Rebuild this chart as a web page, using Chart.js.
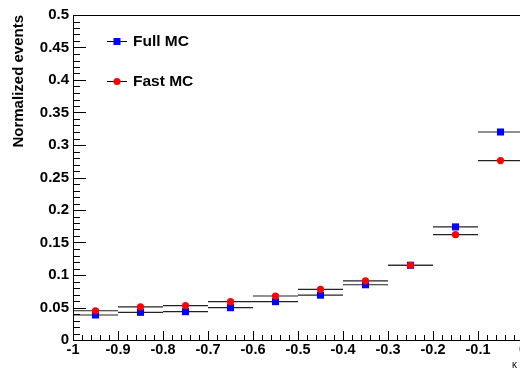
<!DOCTYPE html>
<html>
<head>
<meta charset="utf-8">
<script src="https://cdn.jsdelivr.net/npm/chart.js@4"></script>
<style>
  html, body { margin:0; padding:0; background:#fff; overflow:hidden; }
  #wrap { width:540px; height:370px; }
</style>
</head>
<body>
<div id="wrap"><canvas id="c" width="540" height="370"></canvas></div>
<script>
// bins (centres) and half width
const binCentres = [-0.95,-0.85,-0.75,-0.65,-0.55,-0.45,-0.35,-0.25,-0.15,-0.05];
const binHalf = 0.05;
const fullMC = [0.0385,0.0426,0.0436,0.0497,0.059,0.069,0.085,0.115,0.174,0.320];
const fastMC = [0.045,0.051,0.053,0.059,0.0677,0.078,0.091,0.115,0.162,0.276];
const seriesNames = ['Full MC','Fast MC'];
const xTickRange = [-1, 0];
const yTickRange = [0, 0.5];

const font = 'Liberation Sans, Arial, Helvetica, sans-serif';
const fmt = v => String(+Number(v).toFixed(2));

// horizontal bin-width bars under the markers
const binBars = {
  id:'binBars',
  beforeDatasetsDraw(chart){
    const ctx = chart.ctx, xs = chart.scales.x, ys = chart.scales.y;
    ctx.save();
    ctx.strokeStyle = '#222';
    ctx.lineWidth = 1.2;
    chart.data.datasets.forEach(ds => {
      ds.data.forEach(p => {
        const y = ys.getPixelForValue(p.y);
        ctx.beginPath();
        ctx.moveTo(xs.getPixelForValue(p.x - binHalf), y);
        ctx.lineTo(xs.getPixelForValue(p.x + binHalf), y);
        ctx.stroke();
      });
    });
    ctx.restore();
  }
};

// ROOT style frame, inward ticks, legend and x title
const rootFrame = {
  id:'rootFrame',
  afterDraw(chart){
    const ctx = chart.ctx, a = chart.chartArea, xs = chart.scales.x, ys = chart.scales.y;
    ctx.save();
    ctx.strokeStyle = '#000';
    ctx.lineWidth = 1;
    ctx.strokeRect(a.left + 0.5, a.top + 0.5, a.right - a.left, a.bottom - a.top);
    ctx.beginPath();
    for (let i = 0; i <= 50; i++) {
      const y = Math.round(ys.getPixelForValue(i * 0.01)) + 0.5;
      const len = i % 5 === 0 ? 13 : 7;
      ctx.moveTo(a.left, y); ctx.lineTo(a.left + len, y);
    }
    for (let i = 0; i <= 50; i++) {
      const x = Math.round(xs.getPixelForValue(-1 + i * 0.02)) + 0.5;
      const len = i % 5 === 0 ? 9 : 5;
      ctx.moveTo(x, a.bottom); ctx.lineTo(x, a.bottom - len);
    }
    ctx.stroke();

    // legend
    seriesNames.forEach((name, i) => {
      const ds = chart.data.datasets.find(d => d.label === name);
      const y = a.top + 26 + i * 40;
      const mx = a.left + 44;
      ctx.strokeStyle = '#000';
      ctx.beginPath();
      ctx.moveTo(mx - 10, y + 0.5); ctx.lineTo(mx + 10, y + 0.5);
      ctx.stroke();
      ctx.fillStyle = ds.backgroundColor;
      if (ds.pointStyle === 'rect') {
        ctx.fillRect(mx - 3.5, y - 3, 7, 7);
      } else {
        ctx.beginPath(); ctx.arc(mx, y + 0.5, 3.6, 0, Math.PI * 2); ctx.fill();
      }
      ctx.fillStyle = '#000';
      ctx.font = 'bold 15.5px ' + font;
      ctx.textBaseline = 'middle';
      ctx.textAlign = 'left';
      ctx.fillText(ds.label, mx + 16, y + 1);
    });

    // x axis title (cut off at the right edge)
    ctx.font = '10px ' + font;
    ctx.textBaseline = 'middle';
    ctx.fillText('κ', a.right - 11, 365);
    ctx.restore();
  }
};

new Chart(document.getElementById('c'), {
  type:'scatter',
  data:{
    datasets:[
      { label:seriesNames[0], data:binCentres.map((x,i)=>({x, y:fullMC[i]})),
        pointStyle:'rect', pointRadius:5, backgroundColor:'#0000ff', borderColor:'#0000ff', borderWidth:0, order:2 },
      { label:seriesNames[1], data:binCentres.map((x,i)=>({x, y:fastMC[i]})),
        pointStyle:'circle', pointRadius:3.6, backgroundColor:'#ff0000', borderColor:'#ff0000', borderWidth:0, order:1 }
    ]
  },
  options:{
    responsive:false,
    animation:false,
    devicePixelRatio:1,
    layout:{ padding:{ top:15, right:17, left:0, bottom:0 } },
    plugins:{ legend:{ display:false }, tooltip:{ enabled:false } },
    scales:{
      x:{
        type:'linear', min:xTickRange[0], max:xTickRange[1],
        grid:{ display:false, drawTicks:false }, border:{ display:true, color:'#000' },
        ticks:{ stepSize:0.1, color:'#000', padding:1, maxRotation:0, autoSkip:false, callback:fmt,
                font:{ family:font, size:14.5, weight:'bold' } },
        afterFit(s){ s.height = 30; }
      },
      y:{
        min:yTickRange[0], max:yTickRange[1],
        grid:{ display:false, drawTicks:false }, border:{ display:true, color:'#000' },
        ticks:{ stepSize:0.05, color:'#000', padding:4, autoSkip:false, callback:fmt,
                font:{ family:font, size:15, weight:'bold' } },
        title:{ display:true, text:'Normalized events', align:'end', color:'#000', padding:{ top:10, bottom:0 },
                font:{ family:font, size:15, weight:'bold' } },
        afterFit(s){ s.width = 73; }
      }
    }
  },
  plugins:[binBars, rootFrame]
});
</script>
</body>
</html>
